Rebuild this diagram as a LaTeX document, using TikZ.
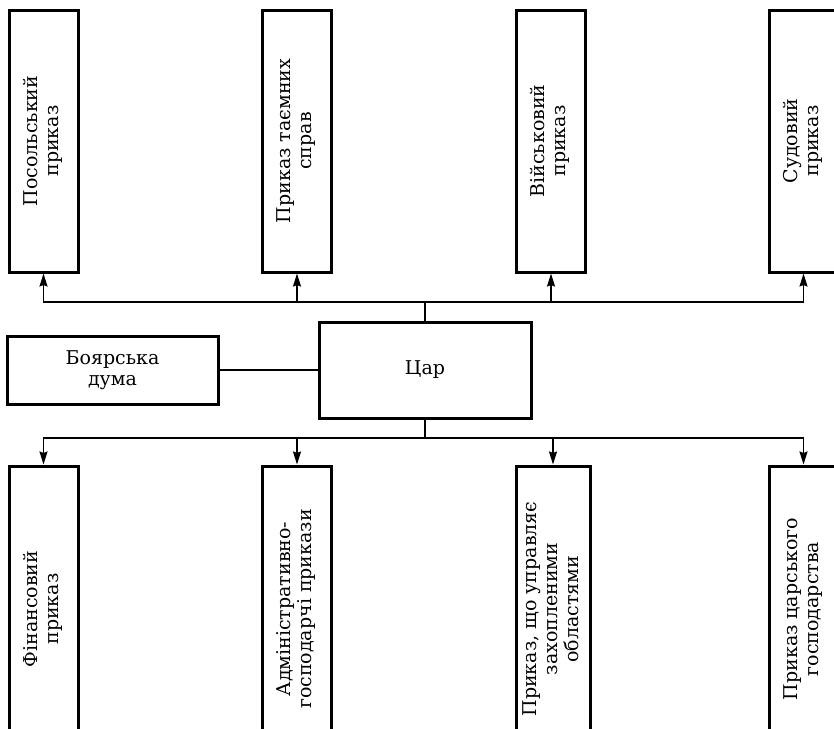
\documentclass[tikz,border=0pt]{standalone}
\usepackage{graphicx}
\usepackage{fontspec}
\setmainfont{DejaVu Serif}
\usetikzlibrary{arrows.meta}

\tikzset{
  box/.style={draw, line width=3pt, inner sep=0pt, align=center},
  tall/.style={box, minimum width=69pt},
  wire/.style={line width=1.5pt},
  arr/.style={wire, -{Stealth[length=13pt,width=8pt,inset=1.5pt]}}
}
\newcommand{\vtext}[1]{\rotatebox{90}{\begin{tabular}{@{}c@{}}#1\end{tabular}}}

\begin{document}
\begin{tikzpicture}[x=1pt, y=-1pt, font=\fontsize{19}{21}\selectfont]
  \useasboundingbox (0,0) rectangle (834,728);
  \clip (0,0) rectangle (834,728);

  % top row
  \node[tall, minimum height=262pt] (posol) at (43.5,141) {\vtext{Посольський\\приказ}};
  \node[tall, minimum height=262pt] (taemn) at (297,141) {\vtext{Приказ таємних\\справ}};
  \node[tall, minimum height=262pt] (viysk) at (551,141) {\vtext{Військовий\\приказ}};
  \node[tall, minimum height=262pt] (sud) at (803.5,141) {\vtext{Судовий\\приказ}};

  % middle
  \node[box, minimum width=211pt, minimum height=68pt] (duma) at (112.5,370) {Боярська\\дума};
  \node[box, minimum width=212pt, minimum height=96pt] (tsar) at (425,370) {Цар};

  % bottom row
  \node[tall, minimum height=286pt] (fin) at (43.5,609) {\vtext{Фінансовий\\приказ}};
  \node[tall, minimum height=286pt] (admin) at (297,609) {\vtext{Адміністративно-\\господарчі прикази}};
  \node[tall, minimum height=286pt, minimum width=74pt] (zakh) at (553,609) {\vtext{Приказ, що управляє\\захопленими\\областями}};
  \node[tall, minimum height=286pt] (gosp) at (803.5,609) {\vtext{Приказ царського\\господарства}};

  \draw[wire] (duma.east) -- (tsar.west);

  \draw[wire] (tsar.north) -- (425,302) coordinate (tbus);
  \foreach \n in {posol,taemn,viysk,sud}
    \draw[arr] (tbus) -| (\n.south);

  \draw[wire] (tsar.south) -- (425,438) coordinate (bbus);
  \foreach \n in {fin,admin,zakh,gosp}
    \draw[arr] (bbus) -| (\n.north);
\end{tikzpicture}
\end{document}
